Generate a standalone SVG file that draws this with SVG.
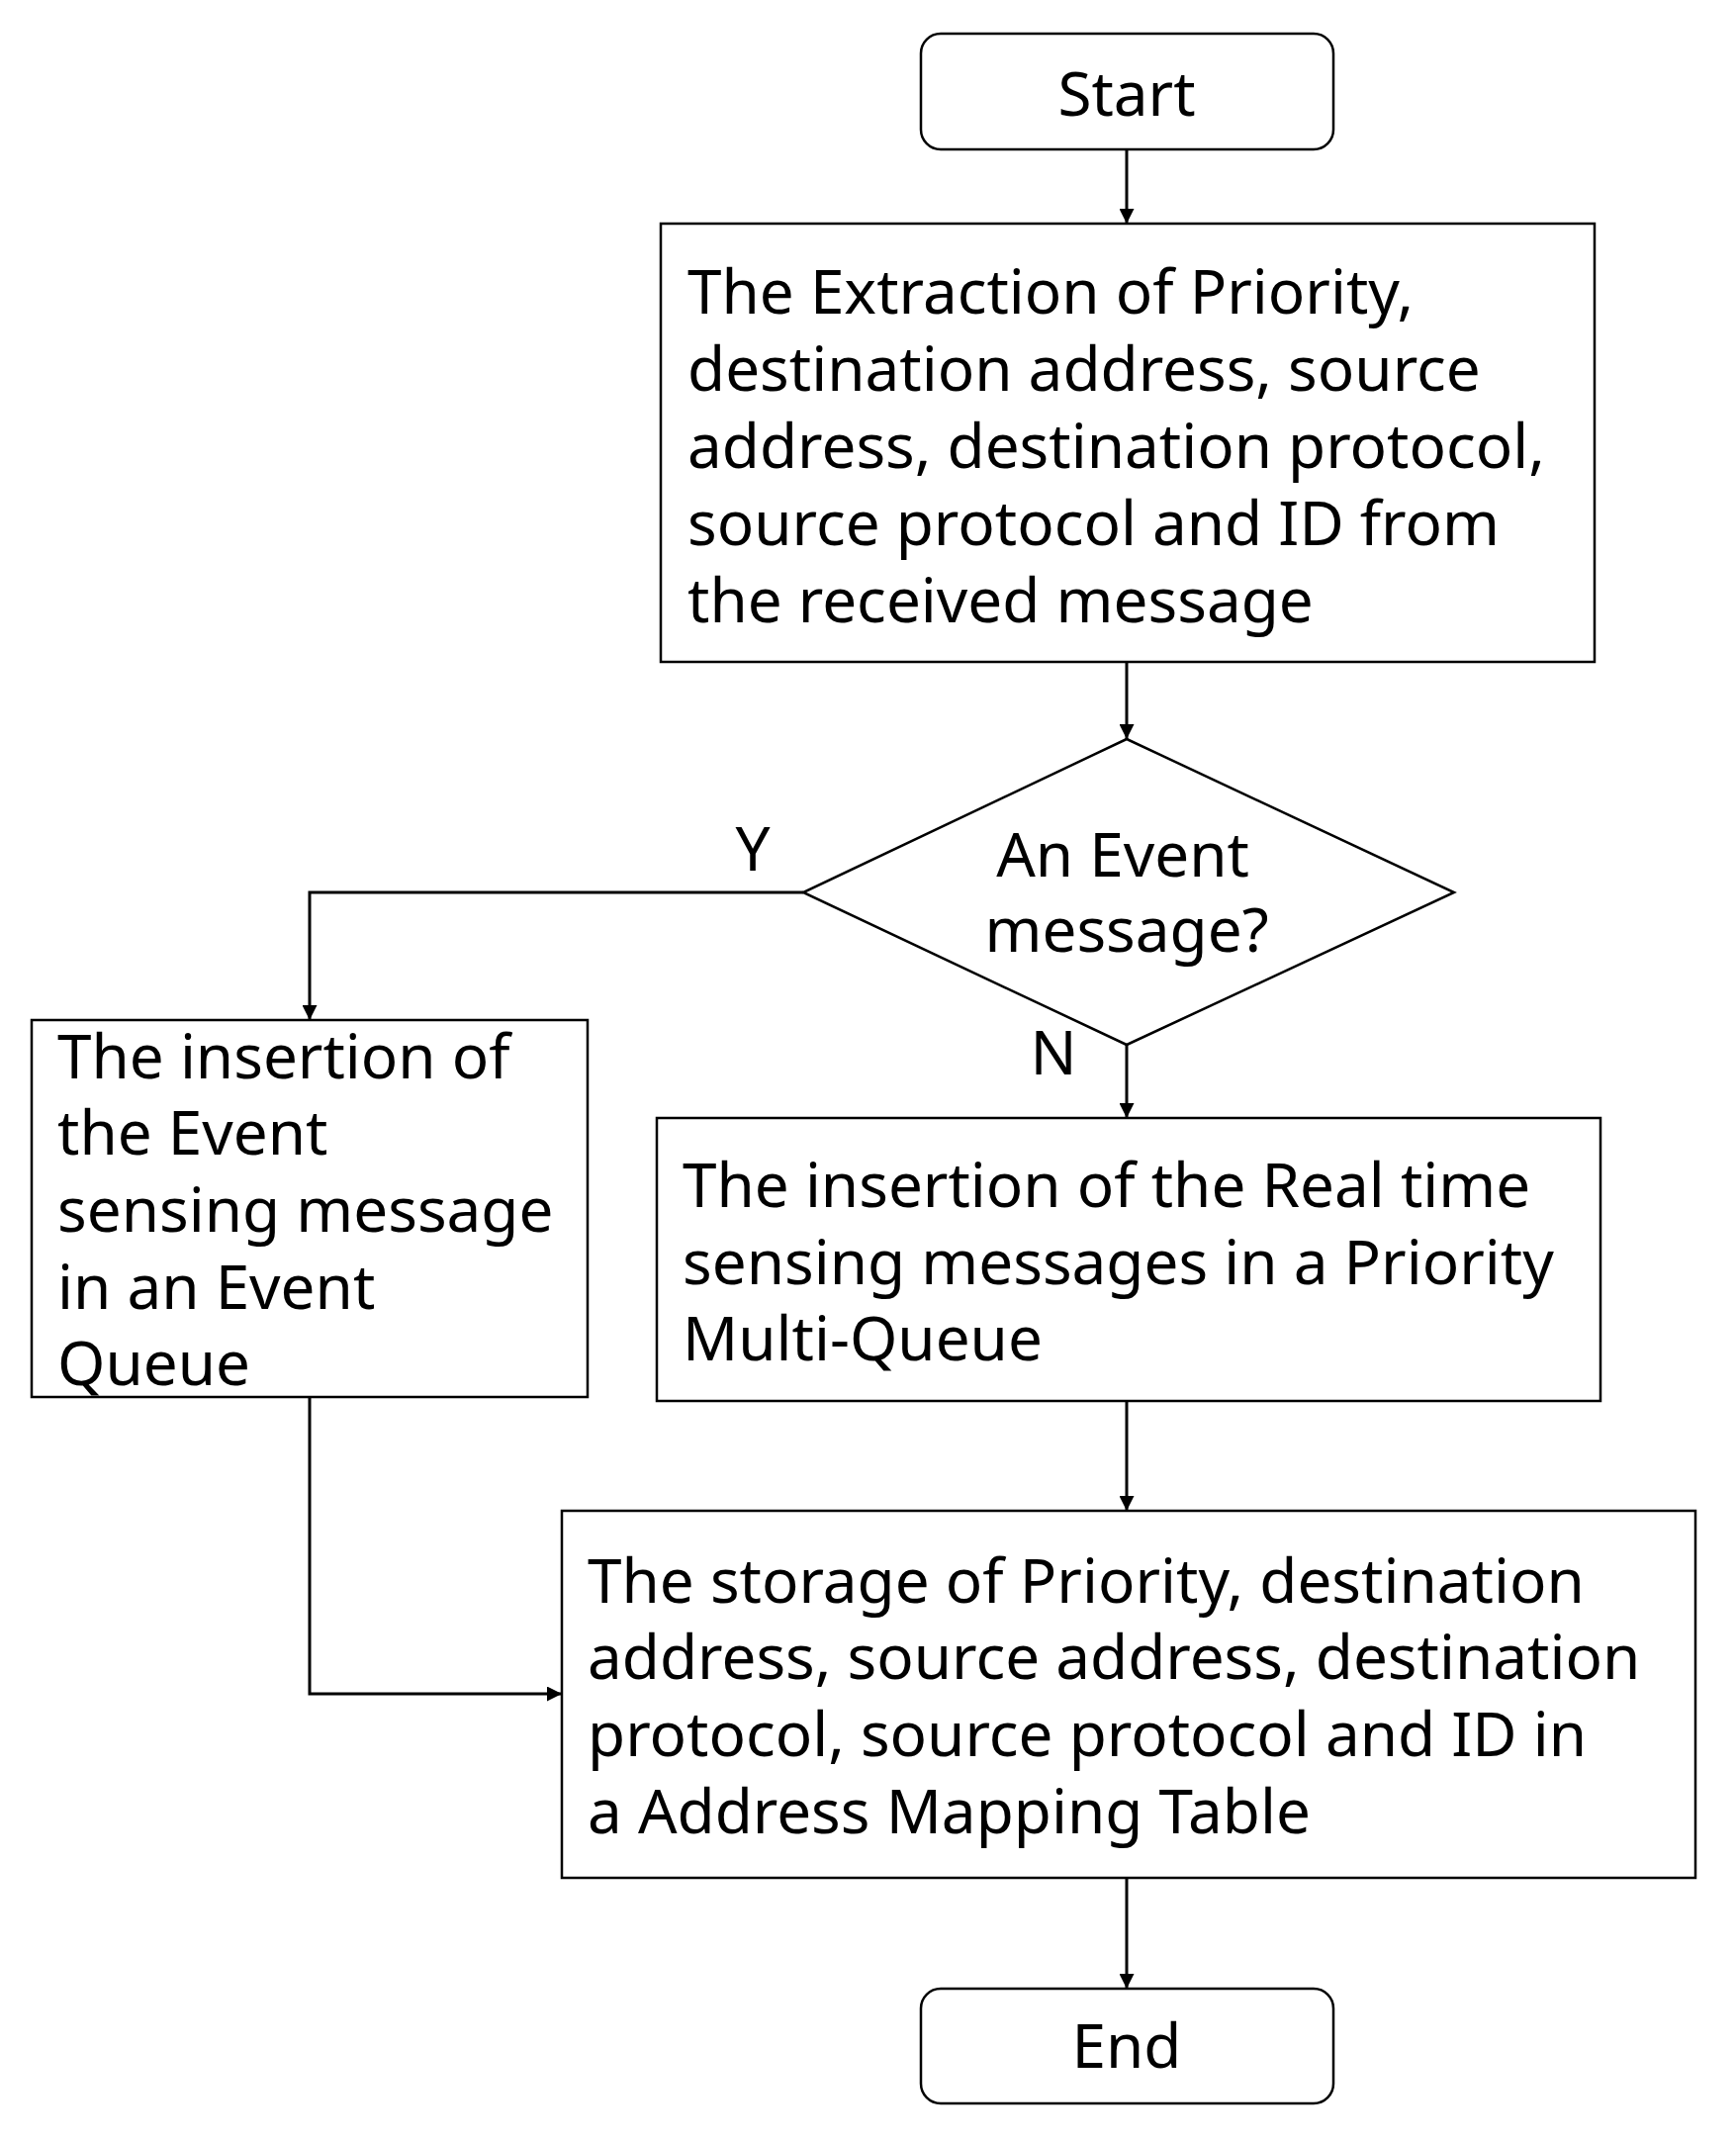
<svg xmlns="http://www.w3.org/2000/svg" width="1755" height="2165" viewBox="0 0 1755 2165">
<style>
.b{fill:#fff;stroke:#000;stroke-width:2.5}
.t{font-family:"Noto Sans","DejaVu Sans",sans-serif;font-size:62px;fill:#000}
.c{fill:none;stroke:#000;stroke-width:3;marker-end:url(#a)}
</style>
<defs><marker id="a" viewBox="0 0 10 10" refX="10" refY="5" markerWidth="5" markerHeight="5" orient="auto"><path d="M0,0L10,5L0,10z" fill="#000"/></marker></defs>
<rect width="1755" height="2165" fill="#fff"/>
<g id="connectors">
<path class="c" d="M1139,151V226"/>
<path class="c" d="M1139,669V747"/>
<path class="c" d="M812,902H313V1031"/>
<path class="c" d="M1139,1056V1130"/>
<path class="c" d="M1139,1416V1527"/>
<path class="c" d="M313,1412V1712H568"/>
<path class="c" d="M1139,1898V2010"/>
<text class="t" x="761" y="880" text-anchor="middle">Y</text>
<text class="t" x="1065" y="1086" text-anchor="middle">N</text>
</g>
<g id="start"><rect class="b" x="931" y="34" width="417" height="117" rx="20"/><text class="t" x="1139" y="117" text-anchor="middle">Start</text></g>
<g id="extract"><rect class="b" x="668" y="226" width="944" height="443"/>
<text class="t"><tspan x="695" y="317">The Extraction of Priority,</tspan><tspan x="695" y="395">destination address, source</tspan><tspan x="695" y="473">address, destination protocol,</tspan><tspan x="695" y="551">source protocol and ID from</tspan><tspan x="695" y="629">the received message</tspan></text></g>
<g id="decision"><path class="b" d="M1139,747L1470,902L1139,1056L812,902Z"/>
<text class="t" text-anchor="middle"><tspan x="1135" y="886">An Event</tspan><tspan x="1139" y="962">message?</tspan></text></g>
<g id="event"><rect class="b" x="32" y="1031" width="562" height="381"/>
<text class="t"><tspan x="58" y="1090">The insertion of</tspan><tspan x="58" y="1167">the Event</tspan><tspan x="58" y="1245">sensing message</tspan><tspan x="58" y="1323">in an Event</tspan><tspan x="58" y="1400">Queue</tspan></text></g>
<g id="realtime"><rect class="b" x="664" y="1130" width="954" height="286"/>
<text class="t"><tspan x="690" y="1220">The insertion of the Real time</tspan><tspan x="690" y="1298">sensing messages in a Priority</tspan><tspan x="690" y="1375">Multi-Queue</tspan></text></g>
<g id="storage"><rect class="b" x="568" y="1527" width="1146" height="371"/>
<text class="t"><tspan x="594" y="1620">The storage of Priority, destination</tspan><tspan x="594" y="1697">address, source address, destination</tspan><tspan x="594" y="1775">protocol, source protocol and ID in</tspan><tspan x="594" y="1853">a Address Mapping Table</tspan></text></g>
<g id="end"><rect class="b" x="931" y="2010" width="417" height="116" rx="20"/><text class="t" x="1139" y="2090" text-anchor="middle">End</text></g>
</svg>
